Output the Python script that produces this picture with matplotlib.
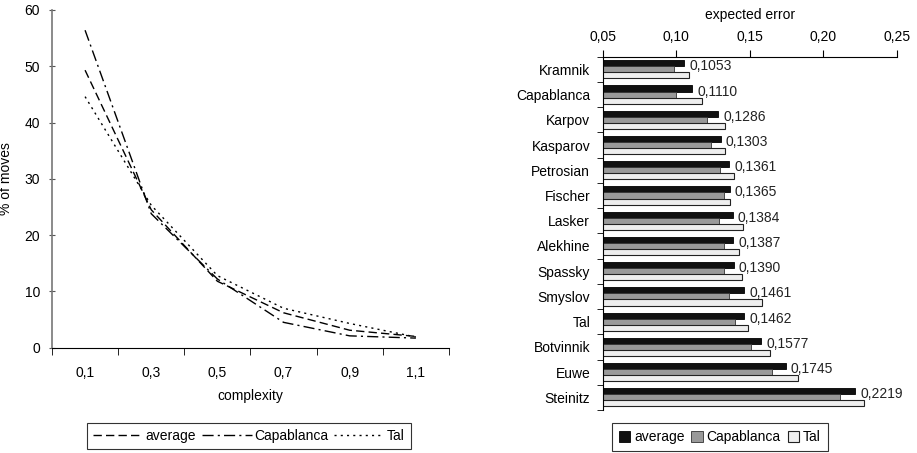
import matplotlib.pyplot as plt
import matplotlib.ticker as mticker
import numpy as np

plt.rcParams['font.family'] = ['Liberation Sans', 'DejaVu Sans']
plt.rcParams['font.size'] = 10

# left chart data: share of moves by complexity
complexity = ['0,1', '0,3', '0,5', '0,7', '0,9', '1,1']
moves_average = [49.3, 24.5, 11.8, 6.2, 3.1, 2.0]
moves_capablanca = [56.4, 23.8, 12.2, 4.5, 2.1, 1.7]
moves_tal = [44.6, 25.3, 12.8, 7.0, 4.3, 1.9]

# right chart data: expected error per player
players = ['Kramnik', 'Capablanca', 'Karpov', 'Kasparov', 'Petrosian', 'Fischer', 'Lasker',
           'Alekhine', 'Spassky', 'Smyslov', 'Tal', 'Botvinnik', 'Euwe', 'Steinitz']
err_average = [0.1053, 0.1110, 0.1286, 0.1303, 0.1361, 0.1365, 0.1384,
               0.1387, 0.1390, 0.1461, 0.1462, 0.1577, 0.1745, 0.2219]
err_capablanca = [0.0987, 0.1001, 0.1212, 0.1239, 0.1300, 0.1323, 0.1289,
                  0.1323, 0.1327, 0.1361, 0.1402, 0.1507, 0.1654, 0.2116]
err_tal = [0.1089, 0.1178, 0.1334, 0.1334, 0.1395, 0.1368, 0.1457,
           0.1429, 0.1445, 0.1586, 0.1491, 0.1638, 0.1831, 0.2280]

fig = plt.figure(figsize=(9.17, 4.53), dpi=100)

# ---- left: line chart ----
ax1 = fig.add_axes([0.0567, 0.2325, 0.4329, 0.7455])
xs = np.arange(len(complexity))
ax1.plot(xs, moves_average, color='black', lw=1.0, linestyle=(0, (6, 3)), label='average')
ax1.plot(xs, moves_capablanca, color='black', lw=1.0, linestyle=(0, (8, 3, 1.5, 3)), label='Capablanca')
ax1.plot(xs, moves_tal, color='black', lw=1.0, linestyle=(0, (1.5, 3)), label='Tal')

ax1.set_xlim(-0.5, len(complexity) - 0.5)
ax1.set_ylim(0, 60)
ax1.set_yticks(range(0, 61, 10))
ax1.set_xticks(xs)
ax1.set_xticklabels(complexity)
ax1.xaxis.set_minor_locator(mticker.FixedLocator(np.arange(-0.5, len(complexity), 1.0)))
ax1.tick_params(axis='x', which='major', length=0, pad=13)
ax1.tick_params(axis='x', which='minor', length=5, direction='out', color='black')
ax1.tick_params(axis='y', length=5, direction='inout', color='#555555', pad=6)
for s in ('top', 'right'):
    ax1.spines[s].set_visible(False)
ax1.spines['left'].set_color('#777777')
ax1.spines['left'].set_linewidth(1.2)
ax1.spines['bottom'].set_color('black')
ax1.set_xlabel('complexity', labelpad=7)
ax1.set_ylabel('% of moves', labelpad=8)

leg1 = ax1.legend(loc='upper center', bbox_to_anchor=(0.496, -0.222), ncol=3, frameon=True,
                  fancybox=False, edgecolor='black', handlelength=3.6, handletextpad=0.2,
                  columnspacing=0.4, borderpad=0.45, borderaxespad=0, fontsize=10)
leg1.get_frame().set_linewidth(0.8)

# ---- right: horizontal bars ----
ax2 = fig.add_axes([0.6572, 0.0949, 0.3207, 0.7799])
ys = np.arange(len(players))
h = 0.24
ax2.barh(ys - h, err_average, height=h, color='#111111', edgecolor='black', lw=0.6, label='average')
ax2.barh(ys, err_capablanca, height=h, color='#999999', edgecolor='#333333', lw=0.6, label='Capablanca')
ax2.barh(ys + h, err_tal, height=h, color='#eeeeee', edgecolor='#222222', lw=0.8, label='Tal')

for y, v in zip(ys, err_average):
    ax2.text(v + 0.0035, y - 0.12, f'{v:.4f}'.replace('.', ','), va='center', ha='left',
             fontsize=10, color='#222222')

ax2.set_xlim(0.05, 0.25)
ax2.set_ylim(len(players) - 0.5, -0.5)
ax2.set_xticks([0.05, 0.10, 0.15, 0.20, 0.25])
ax2.xaxis.set_major_formatter(mticker.FuncFormatter(lambda v, p: f'{v:.2f}'.replace('.', ',')))
ax2.xaxis.tick_top()
ax2.xaxis.set_label_position('top')
ax2.set_xlabel('expected error', labelpad=8)
ax2.tick_params(axis='x', length=5, direction='out', pad=4)
ax2.set_yticks(ys)
ax2.set_yticklabels(players)
ax2.yaxis.set_minor_locator(mticker.FixedLocator(np.arange(-0.5, len(players), 1.0)))
ax2.tick_params(axis='y', which='major', length=0, pad=9)
ax2.tick_params(axis='y', which='minor', length=4, direction='out')
ax2.spines['right'].set_visible(False)
ax2.spines['bottom'].set_visible(False)

leg2 = ax2.legend(loc='upper left', bbox_to_anchor=(0.031, -0.037), ncol=3, frameon=True,
                  fancybox=False, edgecolor='black', handlelength=0.8, handleheight=0.8,
                  handletextpad=0.3, columnspacing=0.5, borderpad=0.5, borderaxespad=0,
                  fontsize=10)
leg2.get_frame().set_linewidth(0.8)

fig.savefig('out.png', dpi=100)
